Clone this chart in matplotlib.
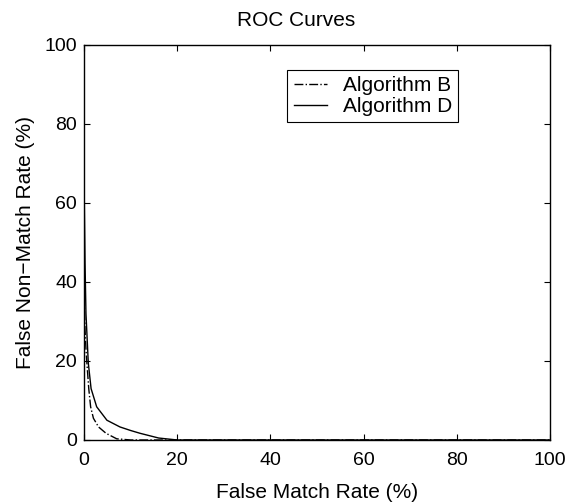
import matplotlib
matplotlib.use("Agg")
import matplotlib.pyplot as plt

plt.rcParams["font.family"] = ["Liberation Sans", "DejaVu Sans"]

# ROC points: false match rate (%), false non-match rate (%)
fmr_b = [0.0, 0.1, 0.2, 0.4, 0.6, 1.0, 1.4, 2.0, 3.1, 4.7, 7.0, 10.0, 20.0, 100.0]
fnmr_b = [40.0, 33.0, 28.0, 23.0, 19.5, 13.0, 8.4, 5.5, 3.3, 1.7, 0.3, 0.0, 0.0, 0.0]

fmr_d = [0.0, 0.1, 0.2, 0.4, 0.9, 1.5, 2.7, 4.9, 7.7, 10.0, 12.0, 16.0, 20.0, 100.0]
fnmr_d = [65.0, 55.0, 44.8, 32.0, 19.5, 13.0, 8.4, 5.0, 3.3, 2.4, 1.7, 0.5, 0.0, 0.0]

ticks = [0, 20, 40, 60, 80, 100]

fig = plt.figure(figsize=(5.8, 5.04), dpi=100)
ax = fig.add_axes([0.145, 0.127, 0.803, 0.784])

ax.plot(fmr_b, fnmr_b, color="black", linestyle="-.", linewidth=1.0, label="Algorithm B")
ax.plot(fmr_d, fnmr_d, color="black", linestyle="-", linewidth=1.0, label="Algorithm D")

ax.set_xlim(0, 100)
ax.set_ylim(0, 100)
ax.set_xticks(ticks)
ax.set_yticks(ticks)
ax.tick_params(direction="in", top=True, right=True, labelsize=14, length=4)
ax.tick_params(axis="x", pad=9)
ax.tick_params(axis="y", pad=5)
for spine in ax.spines.values():
    spine.set_linewidth(1.0)

ax.set_xlabel("False Match Rate (%)", fontsize=15, labelpad=10)
ax.set_ylabel("False Non\u2212Match Rate (%)", fontsize=15, labelpad=7)
# title sits a little left of the axes centre in the original
fig.text(296 / 580, 1 - 20.5 / 504, "ROC Curves", fontsize=15, ha="center", va="center")

leg = ax.legend(loc="upper right", bbox_to_anchor=(0.803, 0.937), borderaxespad=0,
                fancybox=False, edgecolor="black", framealpha=1, fontsize=15,
                handlelength=1.6, handletextpad=0.75, borderpad=0.3, labelspacing=0.1)
leg.get_frame().set_linewidth(0.8)

fig.savefig("out.png", dpi=100)
